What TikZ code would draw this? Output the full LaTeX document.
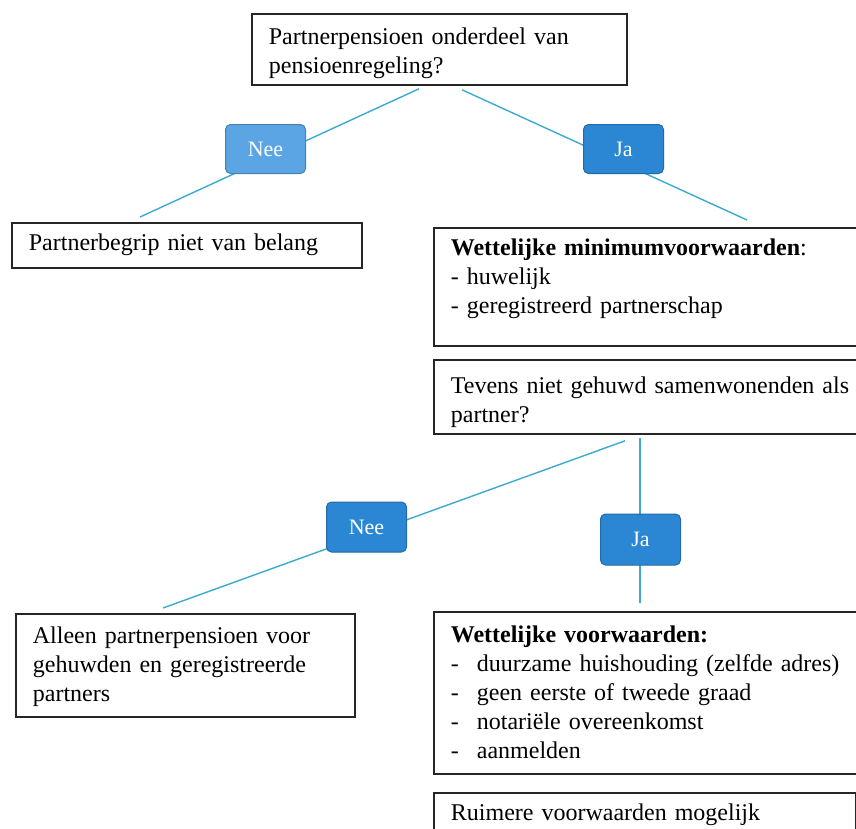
\documentclass[tikz,border=0pt]{standalone}
\usepackage{fontspec}
\setmainfont{Liberation Serif}
\usepackage{xcolor}
\usepackage{tikz}
\usetikzlibrary{positioning}
\definecolor{lijn}{HTML}{3AABCF}
\definecolor{neelicht}{HTML}{5BA5E4}
\definecolor{jablauw}{HTML}{2B87D4}
\def\streep{\makebox[26pt][l]{-}}

\begin{document}
\begin{tikzpicture}[x=1pt, y=-1pt,
    kader/.style={draw=black!85, line width=1.8pt, anchor=north west, inner xsep=17pt, inner ysep=0pt, align=left, font=\fontsize{24}{29}\selectfont},
    boven/.style={execute at begin node={\rule{0pt}{#1}}},
    onder/.style={execute at end node={\rule[-#1]{0pt}{#1}}},
    knop/.style={draw=#1!78!black, fill=#1, rounded corners=5pt, line width=1pt, text=white, font=\fontsize{22}{26}\selectfont, minimum width=80pt, minimum height=49pt, inner sep=0pt},
    tak/.style={draw=lijn, line width=1.4pt}]
          \useasboundingbox (0,0) rectangle (856,828);
          % Kaders met tekst
          \node[kader, text width=341pt, boven=31pt, onder=11pt] (vraag1) at (251,13) {Partnerpensioen onderdeel van\\pensioenregeling?};
          \node[kader, text width=316pt, boven=28pt, onder=17pt] (geenbelang) at (11,222) {Partnerbegrip niet van belang};
          \node[kader, text width=420pt, boven=28pt, onder=32pt] (minimum) at (433,227) {\textbf{Wettelijke minimumvoorwaarden}:\\- huwelijk\\- geregistreerd partnerschap};
          \node[kader, text width=420pt, boven=34pt, onder=11pt] (vraag2) at (433,359) {Tevens niet gehuwd samenwonenden als\\partner?};
          \node[kader, text width=305pt, boven=30pt, onder=15pt] (alleen) at (15,613) {Alleen partnerpensioen voor\\gehuwden en geregistreerde\\partners};
          \node[kader, text width=420pt, boven=31pt, onder=15pt] (voorwaarden) at (433,611) {\textbf{Wettelijke voorwaarden:}\\\streep duurzame huishouding (zelfde adres)\\\streep geen eerste of tweede graad\\\streep notariële overeenkomst\\\streep aanmelden};
          \node[kader, text width=388pt, boven=28pt, onder=20pt] (ruimer) at (433,792) {Ruimere voorwaarden mogelijk};
          % Takken
          \draw[tak] ([shift={(168,3)}]vraag1.south west) -- ([shift={(129,-5)}]geenbelang.north west);
          \draw[tak] ([shift={(211,4)}]vraag1.south west) -- ([shift={(314,-7)}]minimum.north west);
          \draw[tak] ([shift={(192,6)}]vraag2.south west) -- ([shift={(148,-5)}]alleen.north west);
          \draw[tak] ([shift={(207,3)}]vraag2.south west) -- ([shift={(207,-8)}]voorwaarden.north west);
          % Knoppen Nee / Ja
          \node[knop=neelicht] (nee1) at (265.5,149) {Nee};
          \node[knop=jablauw] (ja1) at (623.5,149) {Ja};
          \node[knop=jablauw, minimum height=50pt] (nee2) at (366.5,527) {Nee};
          \node[knop=jablauw, minimum height=51pt] (ja2) at (640.5,539.5) {Ja};
        \end{tikzpicture}
\end{document}
